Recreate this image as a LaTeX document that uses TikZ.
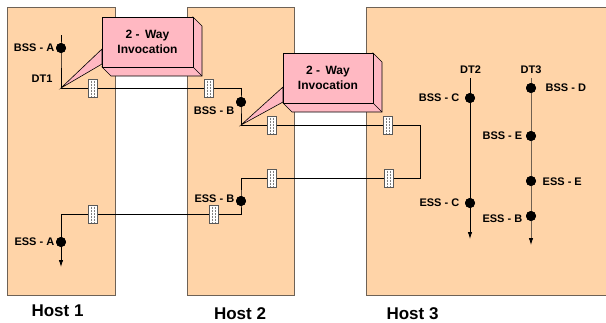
\documentclass[tikz,border=0pt]{standalone}
\usepackage{fontspec}
\setmainfont{Liberation Sans}
\usetikzlibrary{arrows.meta}
\definecolor{hostfill}{RGB}{255,212,168}
\definecolor{hostline}{RGB}{110,98,86}
\definecolor{callfill}{RGB}{255,184,194}
\definecolor{dtline}{RGB}{112,96,80}
\tikzset{
   host/.style={draw=hostline, fill=hostfill, line width=0.9pt},
   wire/.style={draw=black, line width=0.8pt},
   endarrow/.style={-{Latex[length=7pt,width=4.5pt,color=black]}},
   event/.style={circle, fill=black, inner sep=0pt, minimum size=10pt},
   port/.style={draw=gray!70!black, fill=white, line width=0.5pt, inner sep=0pt,
      minimum width=9pt, minimum height=18pt,
      path picture={
         \draw[gray, densely dotted, line width=0.5pt]
            ([xshift=3pt]path picture bounding box.north west) --
            ([xshift=3pt]path picture bounding box.south west);
         \draw[gray, densely dotted, line width=0.5pt]
            ([xshift=-3pt]path picture bounding box.north east) --
            ([xshift=-3pt]path picture bounding box.south east);
      }},
   lbl/.style={font=\bfseries\fontsize{11}{13}\selectfont, inner sep=1pt},
   hostlbl/.style={font=\bfseries\fontsize{17}{20}\selectfont},
   callface/.style={draw=black, fill=callfill, line width=0.6pt},
   calltext/.style={font=\bfseries\fontsize{12}{15}\selectfont, align=center, inner sep=0pt},
}
\begin{document}
\begin{tikzpicture}[x=1pt, y=-1pt]
   \useasboundingbox (0,0) rectangle (606,322);
   % hosts
   \draw[host] (7,7) rectangle (115,295);
   \draw[host] (187,7) rectangle (294,295);
   \fill[hostfill] (366,7) rectangle (606,295);
   \draw[host, fill=none] (606,7) -- (366,7) -- (366,295) -- (606,295);
   \node[hostlbl] (host1) at (57.5,311) {Host 1};
   \node[hostlbl] (host2) at (240,314) {Host 2};
   \node[hostlbl] (host3) at (412.5,313.5) {Host 3};

   % invocation thread through the hosts
   \coordinate (dt1top) at (61,35);
   \node[event] (bssA) at (61,48) {};
   \coordinate (dt1) at (61,88);
   \coordinate (h2top) at (241,88);
   \node[event] (bssB) at (241,102) {};
   \coordinate (h2a) at (241,125);
   \coordinate (h3a) at (420,125);
   \coordinate (h3b) at (420,178);
   \coordinate (h2b) at (241,178);
   \node[event] (essB) at (241,201) {};
   \coordinate (h2c) at (241,214);
   \coordinate (h1c) at (61,214);
   \node[event] (essA) at (61,242) {};
   \coordinate (dt1end) at (61,267);
   \draw[wire] (dt1top) -- (bssA.center) -- (dt1) -- (h2top) -- (bssB.center) -- (h2a)
      -- (h3a) -- (h3b) -- (h2b) -- (essB.center) -- (h2c) -- (h1c) -- (essA.center);
   \draw[wire, endarrow] (essA.center) -- (dt1end);
   \node[event] at (bssA) {};
   \node[event] at (bssB) {};
   \node[event] at (essB) {};
   \node[event] at (essA) {};

   % ports on the thread
   \node[port] (p1) at (93,88) {};
   \node[port] (p2) at (209,88) {};
   \node[port] (p3) at (272,125) {};
   \node[port] (p4) at (388,125) {};
   \node[port] (p5) at (389,178) {};
   \node[port] (p6) at (272,178) {};
   \node[port] (p7) at (214,214) {};
   \node[port] (p8) at (93,214) {};

   % threads in host 3
   \coordinate (dt2top) at (470,78);
   \node[event] (bssC) at (470,98) {};
   \node[event] (essC) at (470,203) {};
   \coordinate (dt2end) at (470,239);
   \draw[wire, endarrow] (dt2top) -- (dt2end);
   \coordinate (dt3top) at (531,78);
   \node[event] (bssD) at (531,88) {};
   \node[event] (bssE) at (531,136) {};
   \node[event] (essE) at (531,181) {};
   \node[event] (essB3) at (531,216) {};
   \coordinate (dt3end) at (531,245);
   \draw[wire, draw=dtline, endarrow] (dt3top) -- (dt3end);
   \node[event] at (bssC) {};
   \node[event] at (essC) {};
   \node[event] at (bssD) {};
   \node[event] at (bssE) {};
   \node[event] at (essE) {};
   \node[event] at (essB3) {};

   % labels
   \node[lbl, anchor=east] (bssAl) at (55.5,48) {BSS - A};
   \node[lbl] (dt1l) at (42,79) {DT1};
   \node[lbl, anchor=east] (bssBl) at (235.5,111) {BSS - B};
   \node[lbl, anchor=east] (essBl) at (235.5,199) {ESS - B};
   \node[lbl, anchor=east] (essAl) at (55.5,242) {ESS - A};
   \node[lbl] (dt2l) at (470.5,70) {DT2};
   \node[lbl] (dt3l) at (531,70) {DT3};
   \node[lbl, anchor=east] (bssCl) at (460.5,98) {BSS - C};
   \node[lbl, anchor=east] (essCl) at (460.5,203) {ESS - C};
   \node[lbl, anchor=west] (bssDl) at (544.5,88) {BSS - D};
   \node[lbl, anchor=east] (bssEl) at (523.5,136) {BSS - E};
   \node[lbl, anchor=west] (essEl) at (541.5,182) {ESS - E};
   \node[lbl, anchor=east] (essB3l) at (523.5,219) {ESS - B};

   % 2-way invocation callouts
   \draw[callface] (102,49) -- (dt1) -- (102,64) -- cycle;
   \draw[callface] (193,17) -- (202,26) -- (202,76) -- (111,76) -- (102,67) -- (193,67) -- cycle;
   \draw[line width=0.6pt] (193,67) -- (202,76);
   \node[callface, calltext, minimum width=91pt, minimum height=50pt] (inv1) at (147.5,42)
      {2 - \,Way\\Invocation};
   \draw[callface] (283,87) -- (h2a) -- (283,102) -- cycle;
   \draw[callface] (373,53) -- (382,62) -- (382,112) -- (292,112) -- (283,103) -- (373,103) -- cycle;
   \draw[line width=0.6pt] (373,103) -- (382,112);
   \node[callface, calltext, minimum width=90pt, minimum height=50pt] (inv2) at (328,78)
      {2 - \,Way\\Invocation};
\end{tikzpicture}
\end{document}
